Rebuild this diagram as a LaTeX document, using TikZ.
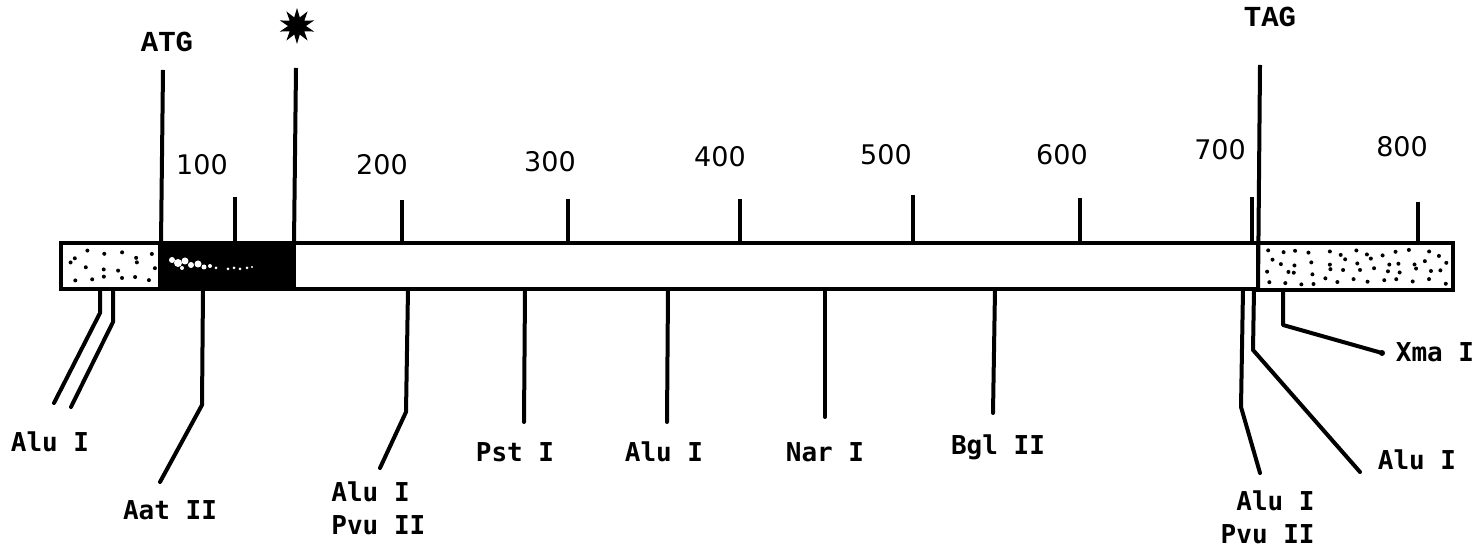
\documentclass[tikz,border=0pt]{standalone}
\usepackage{fontspec}
\newfontfamily\sitefont{DejaVu Sans Mono}
\newfontfamily\numfont{DejaVu Sans}
\newfontfamily\codonfont{Liberation Mono}
\usetikzlibrary{shapes.geometric}

\begin{document}
\begin{tikzpicture}[x=0.5pt,y=-0.5pt,
  site/.style={font=\sitefont\bfseries\fontsize{13}{16.5}\selectfont, inner sep=0pt},
  num/.style={font=\numfont\fontsize{13.5}{15}\selectfont, inner sep=0pt},
  codon/.style={font=\codonfont\bfseries\fontsize{14.5}{16}\selectfont, inner sep=0pt},
  cut/.style={line width=2pt, line join=round, line cap=round},
  tick/.style={line width=2pt},
  outline/.style={line width=2pt, line join=miter}]

\useasboundingbox (0,0) rectangle (1482,549);

% --- the gene bar ---
\fill[black] (160,243) rectangle (294,289);
% white specks inside the coding block
\foreach \sx/\sy/\sr in {172/260/3, 178/263/4, 185/261/3.5, 191/265/3, 198/264/3.5,
    204/267/2.5, 182/268/2, 210/266/2, 216/268/1.5, 228/269/1.5, 234/268/1.5,
    240/269/1.5, 247/268/1.5, 252/267/1.2}{
  \fill[white] (\sx,\sy) circle [radius=\sr];
}
% stippled flanking regions: jittered grid of dots
\pgfmathsetseed{5}
\foreach \gx in {0,...,5}{
  \foreach \gy in {0,...,2}{
    \pgfmathsetmacro{\px}{70+\gx*15+10*rnd}
    \pgfmathsetmacro{\py}{250+\gy*12+9*rnd}
    \fill (\px,\py) circle [radius=2];
  }
}
\foreach \gx in {0,...,12}{
  \foreach \gy in {0,...,3}{
    \pgfmathsetmacro{\px}{1265+\gx*14.3+10*rnd}
    \pgfmathsetmacro{\py}{249+\gy*9.5+7*rnd}
    \fill (\px,\py) circle [radius=2];
  }
}
\draw[outline] (61,243) rectangle (160,289);
\draw[outline] (160,243) rectangle (294,289);
\draw[outline] (294,243) rectangle (1258,289);
\draw[outline] (1258,243) rectangle (1453,290);

% --- start, marker and stop ---
\node[codon] (atg) at (167,42) {ATG};
\coordinate (atgtop) at (163,70);
\coordinate (atgbar) at (161,243);
\draw[tick] (atgtop) -- (atgbar);

\node[star, star points=10, star point ratio=2.0, fill=black, inner sep=0pt,
      minimum size=18pt] (mark) at (297,26) {};
\coordinate (marktop) at (296,68);
\coordinate (markbar) at (294,243);
\draw[tick] (marktop) -- (markbar);

\node[codon] (tag) at (1270,17) {TAG};
\coordinate (tagtop) at (1260,65);
\coordinate (tagbar) at (1258,290);
\draw[tick] (tagtop) -- (tagbar);

% --- scale ticks ---
\foreach \n/\x/\top/\lx/\ly in {100/235/197/202/165, 200/402/200/382/165,
    300/568/199/550/162, 400/740/199/720/157, 500/913/195/886/155,
    600/1080/198/1062/155, 700/1252/197/1220/150, 800/1418/202/1402/147}{
  \coordinate (s\n top) at (\x,\top);
  \coordinate (s\n bar) at (\x,243);
  \draw[tick] (s\n top) -- (s\n bar);
  \node[num] (lab\n) at (\lx,\ly) {\n};
}

% --- restriction sites below the bar ---
\node[site] (alu1) at (50,442) {Alu I};
\coordinate (alu1a0) at (100,289); \coordinate (alu1a1) at (100,313); \coordinate (alu1a2) at (54,403);
\coordinate (alu1b0) at (113,289); \coordinate (alu1b1) at (113,322); \coordinate (alu1b2) at (71,407);
\draw[cut] (alu1a0) -- (alu1a1) -- (alu1a2);
\draw[cut] (alu1b0) -- (alu1b1) -- (alu1b2);

\node[site] (aat) at (170,510) {Aat II};
\coordinate (aat0) at (203,289); \coordinate (aat1) at (202,405); \coordinate (aat2) at (160,482);
\draw[cut] (aat0) -- (aat1) -- (aat2);

\node[site, align=left, anchor=north west] (alupvu1) at (331,481) {Alu I\\Pvu II};
\coordinate (ap10) at (408,289); \coordinate (ap11) at (406,412); \coordinate (ap12) at (380,468);
\draw[cut] (ap10) -- (ap11) -- (ap12);

\node[site] (pst) at (515,452) {Pst I};
\coordinate (pst0) at (525,289); \coordinate (pst1) at (524,422);
\draw[cut] (pst0) -- (pst1);

\node[site] (alu3) at (664,452) {Alu I};
\coordinate (alu30) at (668,289); \coordinate (alu31) at (667,422);
\draw[cut] (alu30) -- (alu31);

\node[site] (nar) at (825,452) {Nar I};
\coordinate (nar0) at (825,289); \coordinate (nar1) at (825,417);
\draw[cut] (nar0) -- (nar1);

\node[site] (bgl) at (998,447) {Bgl II};
\coordinate (bgl0) at (995,289); \coordinate (bgl1) at (993,413);
\draw[cut] (bgl0) -- (bgl1);

\node[site, align=right, anchor=north east] (alupvu2) at (1315,490) {Alu I\\Pvu II};
\coordinate (ap20) at (1243,289); \coordinate (ap21) at (1241,407); \coordinate (ap22) at (1260,473);
\draw[cut] (ap20) -- (ap21) -- (ap22);

\node[site] (alu5) at (1417,460) {Alu I};
\coordinate (alu50) at (1254,289); \coordinate (alu51) at (1253,350); \coordinate (alu52) at (1360,472);
\draw[cut] (alu50) -- (alu51) -- (alu52);

\node[site] (xma) at (1435,352) {Xma I};
\coordinate (xma0) at (1283,290); \coordinate (xma1) at (1283,325); \coordinate (xma2) at (1382,353);
\draw[cut] (xma0) -- (xma1) -- (xma2);
\fill (xma2) circle [radius=3];

\end{tikzpicture}
\end{document}
